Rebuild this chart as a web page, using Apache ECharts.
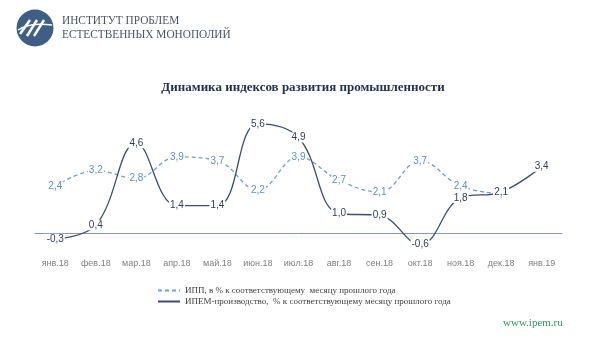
<!DOCTYPE html>
<html>
<head>
<meta charset="utf-8">
<script src="https://cdn.jsdelivr.net/npm/echarts@6/dist/echarts.min.js"></script>
<style>
html,body{margin:0;padding:0;background:#fff;}
#main{width:600px;height:358px;}
</style>
</head>
<body>
<div id="main"></div>
<script>
var categories = ['янв.18','фев.18','мар.18','апр.18','май.18','июн.18','июл.18','авг.18','сен.18','окт.18','ноя.18','дек.18','янв.19'];
var ippValues = [2.4, 3.2, 2.8, 3.9, 3.7, 2.2, 3.9, 2.7, 2.1, 3.7, 2.4, 2.0, null];
var ipemValues = [-0.3, 0.4, 4.6, 1.4, 1.4, 5.6, 4.9, 1.0, 0.9, -0.6, 1.8, 2.1, 3.4];
var seriesNames = ['ИПП, в % к соответствующему  месяцу прошлого года', 'ИПЕМ-производство,  % к соответствующему месяцу прошлого года'];

var chart = echarts.init(document.getElementById('main'));
function fmt(p){ return p.value == null ? '' : String(p.value.toFixed(1)).replace('.', ','); }

chart.setOption({
  backgroundColor: '#ffffff',
  animation: false,
  title: {
    text: 'Динамика индексов развития промышленности',
    left: 298, top: 76, textAlign: 'center',
    textStyle: { fontFamily: 'Liberation Serif', fontWeight: 'bold', fontSize: 13, color: '#1f3052' }
  },
  legend: {
    orient: 'vertical', left: 152, top: 281,
    itemWidth: 22, itemHeight: 8, itemGap: 2,
    itemStyle: { opacity: 0 },
    textStyle: { fontFamily: 'Liberation Serif', fontSize: 9, color: '#404040' },
    data: seriesNames
  },
  grid: { left: 35, right: 38, top: 116, bottom: 105.5 },
  xAxis: {
    type: 'category', data: categories, boundaryGap: true,
    axisLine: { onZero: true, lineStyle: { color: '#7f9cbc', width: 1 } },
    axisTick: { inside: true, length: 4, lineStyle: { color: '#7f9cbc' } },
    axisLabel: { margin: 7, fontSize: 9, color: '#7f7f7f', fontFamily: 'Liberation Sans' }
  },
  yAxis: { type: 'value', min: -1, max: 6, show: false, splitLine: { show: false } },
  graphic: [
    { type: 'circle', shape: { cx: 35, cy: 28, r: 18.5 }, style: { fill: '#3f5e86' } },
    { type: 'polyline', shape: { points: [[20,34],[30,20]] }, style: { stroke: '#fff', lineWidth: 2.5, fill: null } },
    { type: 'polyline', shape: { points: [[27,36],[37,20]] }, style: { stroke: '#fff', lineWidth: 2.5, fill: null } },
    { type: 'polyline', shape: { points: [[34,36],[44,20]] }, style: { stroke: '#fff', lineWidth: 2.5, fill: null } },
    { type: 'bezierCurve', shape: { x1: 18, y1: 30, x2: 52, y2: 25, cpx1: 30, cpy1: 22 }, style: { stroke: '#fff', lineWidth: 1.5, fill: null } },
    { type: 'text', x: 62, y: 14, scaleX: 0.87, style: { text: 'ИНСТИТУТ ПРОБЛЕМ', fontFamily: 'Liberation Serif', fontSize: 13, fill: '#4a5562', verticalAlign: 'top' } },
    { type: 'text', x: 62, y: 28, scaleX: 0.87, style: { text: 'ЕСТЕСТВЕННЫХ МОНОПОЛИЙ', fontFamily: 'Liberation Serif', fontSize: 13, fill: '#4a5562', verticalAlign: 'top' } },
    { type: 'text', x: 503, y: 318, style: { text: 'www.ipem.ru', fontFamily: 'Liberation Serif', fontSize: 11, fill: '#2f9a5c', verticalAlign: 'top' } }
  ],
  series: [
    {
      name: seriesNames[0], type: 'line', data: ippValues, smooth: 0.4,
      symbol: 'circle', symbolSize: 0, showSymbol: true, color: '#6c9fd2',
      lineStyle: { type: [4, 3], width: 1.3, color: '#6c9fd2' },
      label: { show: true, position: 'inside', formatter: fmt, fontSize: 10, color: '#5b8fc8', fontFamily: 'Liberation Sans',
               backgroundColor: '#ffffff', padding: [0, 1] }
    },
    {
      name: seriesNames[1], type: 'line', data: ipemValues, smooth: 0.4,
      symbol: 'circle', symbolSize: 0, showSymbol: true, color: '#3d4d70',
      lineStyle: { width: 1.3, color: '#3d4d70' },
      label: { show: true, position: 'inside', formatter: fmt, fontSize: 10, color: '#333d55', fontFamily: 'Liberation Sans',
               backgroundColor: '#ffffff', padding: [0, 1] }
    }
  ]
});
</script>
</body>
</html>
